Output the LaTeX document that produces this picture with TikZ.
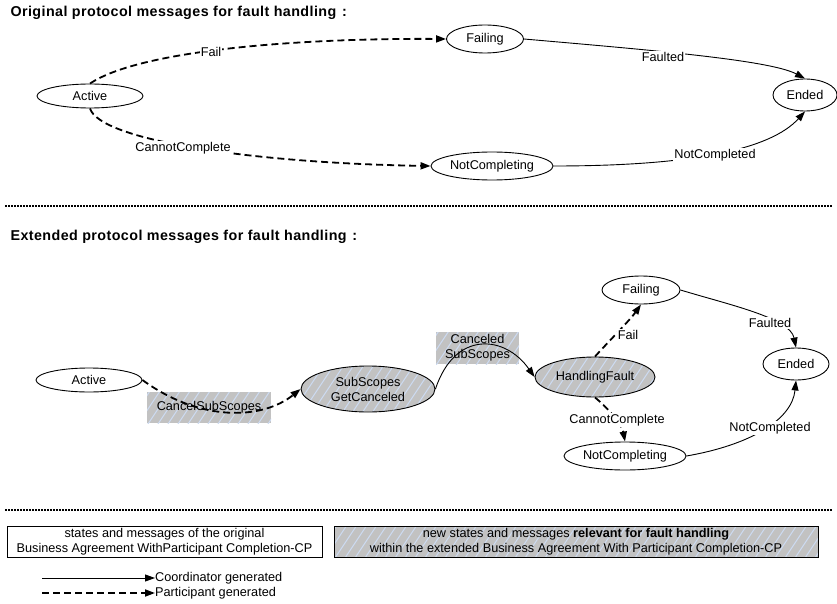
\documentclass[tikz,border=0pt]{standalone}
\usepackage{fontspec}
\setmainfont{Liberation Sans}
\newfontfamily\headfont[LetterSpace=3]{Liberation Sans}
\usetikzlibrary{shapes.geometric,arrows.meta}
\definecolor{newgray}{HTML}{C2C2C2}
\definecolor{hatchblue}{HTML}{CCDAF0}

\tikzset{
  every node/.style={font=\fontsize{12.7}{15}\selectfont},
  state/.style={ellipse, draw, line width=0.9pt, inner sep=0pt, fill=white},
  % grey fill crossed by thin light-blue diagonal stripes
  newarea/.style={fill=newgray, path picture={
      \foreach \k in {-300,-290,...,300}
        \draw[draw=hatchblue, line width=1pt]
          ([xshift=\k pt-30pt, yshift=-45pt]path picture bounding box.center) -- ++(60,-90);
    }},
  coord/.style={line width=0.9pt, -{Triangle[length=10pt,width=7pt]}},
  part/.style={line width=1.8pt, dash pattern=on 7pt off 4pt, -{Triangle[length=10pt,width=7pt]}},
  lbl/.style={fill=white, inner sep=1pt},
  sep/.style={line width=2pt, dash pattern=on 2pt off 1pt},
  head/.style={anchor=base west, font=\headfont\bfseries\fontsize{14.3}{16}\selectfont},
}

\begin{document}
\begin{tikzpicture}[x=1pt,y=-1pt]
\useasboundingbox (0,0) rectangle (837,604);

% ---------- original protocol ----------
\node[head] (t1) at (7,17) {Original protocol messages for fault handling\hspace{0.4em}:};

\node[state, minimum width=106, minimum height=24] (a1) at (90,96) {Active};
\node[state, minimum width=77, minimum height=28] (f1) at (485,39) {Failing};
\node[state, minimum width=64, minimum height=32] (e1) at (805,95) {Ended};
\node[state, minimum width=122, minimum height=28] (nc1) at (492,166) {NotCompleting};

\draw[part] (a1.north) .. controls (140,50) and (300,38) .. (f1.west);
\draw[part] (a1.south) .. controls (100,140) and (250,163) .. (nc1.west);
\draw[coord] (f1.east) .. controls (650,50) and (770,60) .. (e1.north);
\draw[coord] (nc1.east) .. controls (690,166) and (770,150) .. (e1.south);

\node[lbl] (l1) at (211,52) {Fail};
\node[lbl] (l2) at (183,148) {CannotComplete};
\node[lbl] (l3) at (663,57) {Faulted};
\node[lbl] (l4) at (715,155) {NotCompleted};

\draw[sep] (5,206) -- (832,206);

% ---------- extended protocol ----------
\node[head] (t2) at (7,240) {Extended protocol messages for fault handling\hspace{0.4em}:};

\node[newarea, minimum width=124, minimum height=31, inner sep=0pt] (b1) at (209,407.5) {CancelSubScopes};
\node[newarea, minimum width=83, minimum height=32, inner sep=0pt, align=center] (b2) at (477.5,348) {Canceled\\SubScopes};

\node[state, minimum width=106, minimum height=24] (a2) at (89,380) {Active};
\node[state, newarea, minimum width=134, minimum height=46, align=center] (s2) at (368,389) {SubScopes\\GetCanceled};
\node[state, newarea, minimum width=120, minimum height=40] (h2) at (595,377) {HandlingFault};
\node[state, minimum width=78, minimum height=28] (f2) at (641,290) {Failing};
\node[state, minimum width=66, minimum height=32] (e2) at (796,364) {Ended};
\node[state, minimum width=122, minimum height=28] (nc2) at (625,456) {NotCompleting};

\draw[part] (a2.east) .. controls (200,422) and (262,420) .. (s2.west);
\draw[coord] (s2.east) .. controls (455,330) and (505,335) .. (h2.west);
\draw[part] (h2.north) .. controls (610,340) and (630,320) .. (f2.south);
\draw[part] (h2.south) .. controls (610,410) and (622,425) .. (nc2.north);
\draw[coord] (f2.east) .. controls (730,305) and (790,318) .. (e2.north);
\draw[coord] (nc2.east) .. controls (750,445) and (792,420) .. (e2.south);

\node[lbl] (m1) at (628,335) {Fail};
\node[lbl] (m2) at (617,420) {CannotComplete};
\node[lbl] (m3) at (770,323) {Faulted};
\node[lbl] (m4) at (770,428) {NotCompleted};

\draw[sep] (5,510) -- (832,510);

% ---------- legend ----------
\node[draw, line width=0.8pt, minimum width=315, minimum height=31, inner sep=0pt, align=center] (k1) at (164.5,541.5)
  {states and messages of the original\\Business Agreement WithParticipant Completion-CP};
\node[newarea, draw, line width=0.8pt, minimum width=484, minimum height=31, inner sep=0pt, align=center] (k2) at (576,541.5)
  {new states and messages \textbf{relevant for fault handling}\\within the extended Business Agreement With Participant Completion-CP};

\coordinate (c1s) at (42,578);
\coordinate (c2s) at (42,593);
\node[anchor=west, inner sep=0pt] (kc) at (155,578) {Coordinator generated};
\node[anchor=west, inner sep=0pt] (kp) at (155,593) {Participant generated};
\draw[coord] (c1s) -- (kc.west);
\draw[part] (c2s) -- (kp.west);
\end{tikzpicture}
\end{document}
